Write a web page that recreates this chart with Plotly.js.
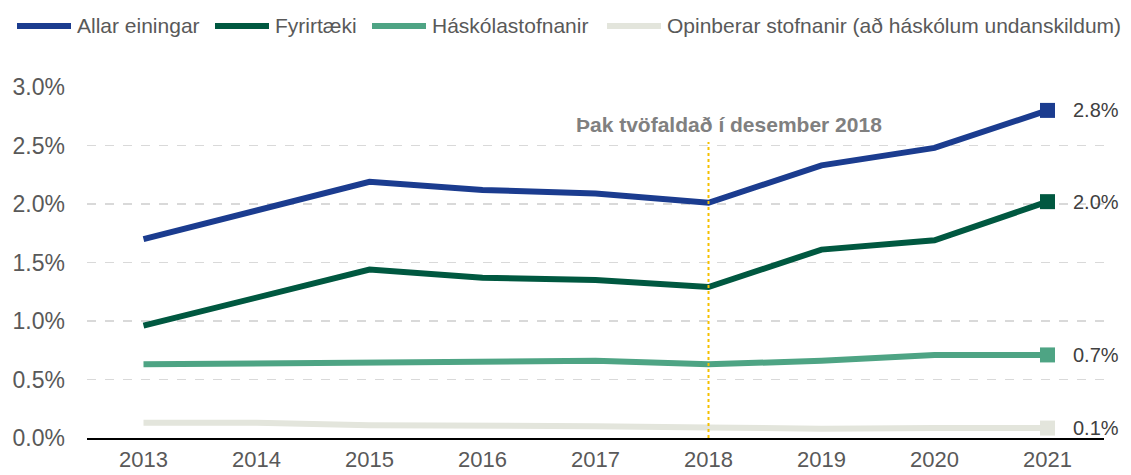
<!DOCTYPE html>
<html>
<head>
<meta charset="utf-8">
<script src="https://cdn.plot.ly/plotly-3.0.1.min.js"></script>
<style>html,body{margin:0;padding:0;background:#fff;}#chart{width:1131px;height:475px;}</style>
</head>
<body>
<div id="chart"></div>
<script>
// ---- data ----
var years = ['2013','2014','2015','2016','2017','2018','2019','2020','2021'];
var seriesNames = ['Allar einingar','Fyrirtæki','Háskólastofnanir','Opinberar stofnanir (að háskólum undanskildum)'];
var allarEiningar = [1.70, 1.95, 2.19, 2.12, 2.09, 2.01, 2.33, 2.48, 2.80];
var fyrirtaeki    = [0.96, 1.20, 1.44, 1.37, 1.35, 1.29, 1.61, 1.69, 2.02];
var haskolastofnanir = [0.63, 0.64, 0.64, 0.65, 0.66, 0.63, 0.66, 0.71, 0.71];
var opinberar     = [0.13, 0.13, 0.11, 0.11, 0.10, 0.09, 0.08, 0.085, 0.085];
var endLabels = ['2.8%','2.0%','0.7%','0.1%'];
var yTickVals = [0, 0.5, 1.0, 1.5, 2.0, 2.5, 3.0];
var yTickText = ['0.0%','0.5%','1.0%','1.5%','2.0%','2.5%','3.0%'];
var markerYear = '2018';
var markerText = 'Þak tvöfaldað í desember 2018';

// ---- styles ----
var colors = ['#1b3c8f','#005840','#4ea484','#e3e5dc'];
var allSeries = [allarEiningar, fyrirtaeki, haskolastofnanir, opinberar];
var font = 'Arial, "Liberation Sans", sans-serif';

var W = 1131, H = 475, mL = 87, mR = 27, mT = 87, mB = 37;
var pw = W - mL - mR, ph = H - mT - mB;
function px(x){ return (x - mL) / pw; }
function py(y){ return (H - mB - y) / ph; }

var traces = [];
for (var i = allSeries.length - 1; i >= 0; i--) {
  var vals = allSeries[i];
  traces.push({
    x: years, y: vals, type: 'scatter', mode: 'lines', name: seriesNames[i],
    line: {color: colors[i], width: 6},
    cliponaxis: false, showlegend: false, hoverinfo: 'skip'
  });
  traces.push({
    x: [years[years.length-1]], y: [vals[vals.length-1]], type: 'scatter', mode: 'markers',
    marker: {symbol: 'square', size: 15, color: colors[i], opacity: 1, line: {width: 0}},
    cliponaxis: false, showlegend: false, hoverinfo: 'skip'
  });
}

var annotations = [];
var shapes = [];
// end labels
allSeries.forEach(function(vals, i){
  annotations.push({
    x: years.length - 1, y: vals[vals.length-1], xref: 'x', yref: 'y',
    text: endLabels[i], showarrow: false, xanchor: 'left', yanchor: 'middle',
    xshift: 23, font: {family: font, size: 20, color: '#404040'}
  });
});
// vertical marker line + text
var mIdx = years.indexOf(markerYear);
shapes.push({type: 'line', xref: 'x', yref: 'y', x0: mIdx, x1: mIdx, y0: 0, y1: 2.53, layer: 'above',
  line: {color: '#f5c000', width: 2, dash: 'dot'}});
annotations.push({x: px(729), y: py(124), xref: 'paper', yref: 'paper', text: '<b>' + markerText + '</b>',
  showarrow: false, xanchor: 'center', yanchor: 'middle', font: {family: font, size: 21, color: '#808080'}});

// custom legend
var legX = [15, 213, 370, 605];
legX.forEach(function(lx, i){
  shapes.push({type: 'line', xref: 'paper', yref: 'paper', x0: px(lx + 2), x1: px(lx + 56), y0: py(26), y1: py(26),
    line: {color: colors[i], width: 6}});
  annotations.push({x: px(lx + 60), y: py(25), xref: 'paper', yref: 'paper', text: seriesNames[i],
    showarrow: false, xanchor: 'left', yanchor: 'middle', font: {family: font, size: 21, color: '#595959'}});
});

var layout = {
  width: W, height: H,
  margin: {l: mL, r: mR, t: mT, b: mB, pad: 0},
  paper_bgcolor: '#ffffff', plot_bgcolor: '#ffffff',
  showlegend: false,
  xaxis: {
    type: 'category', range: [-0.5, 8.5], showgrid: false, zeroline: false,
    showline: true, linecolor: '#000000', linewidth: 2, ticks: '',
    tickfont: {family: font, size: 22, color: '#595959'}, ticklabelstandoff: 1, fixedrange: true
  },
  yaxis: {
    range: [0, 3.0], tickvals: yTickVals, ticktext: yTickText,
    showgrid: true, gridcolor: '#d9d9d9', gridwidth: 1.5, griddash: 'dash',
    zeroline: false, showline: false, ticks: '',
    tickfont: {family: font, size: 23, color: '#595959'}, ticklabelstandoff: 21, fixedrange: true
  },
  shapes: shapes, annotations: annotations
};

Plotly.newPlot('chart', traces, layout, {displayModeBar: false, staticPlot: true});
</script>
</body>
</html>
